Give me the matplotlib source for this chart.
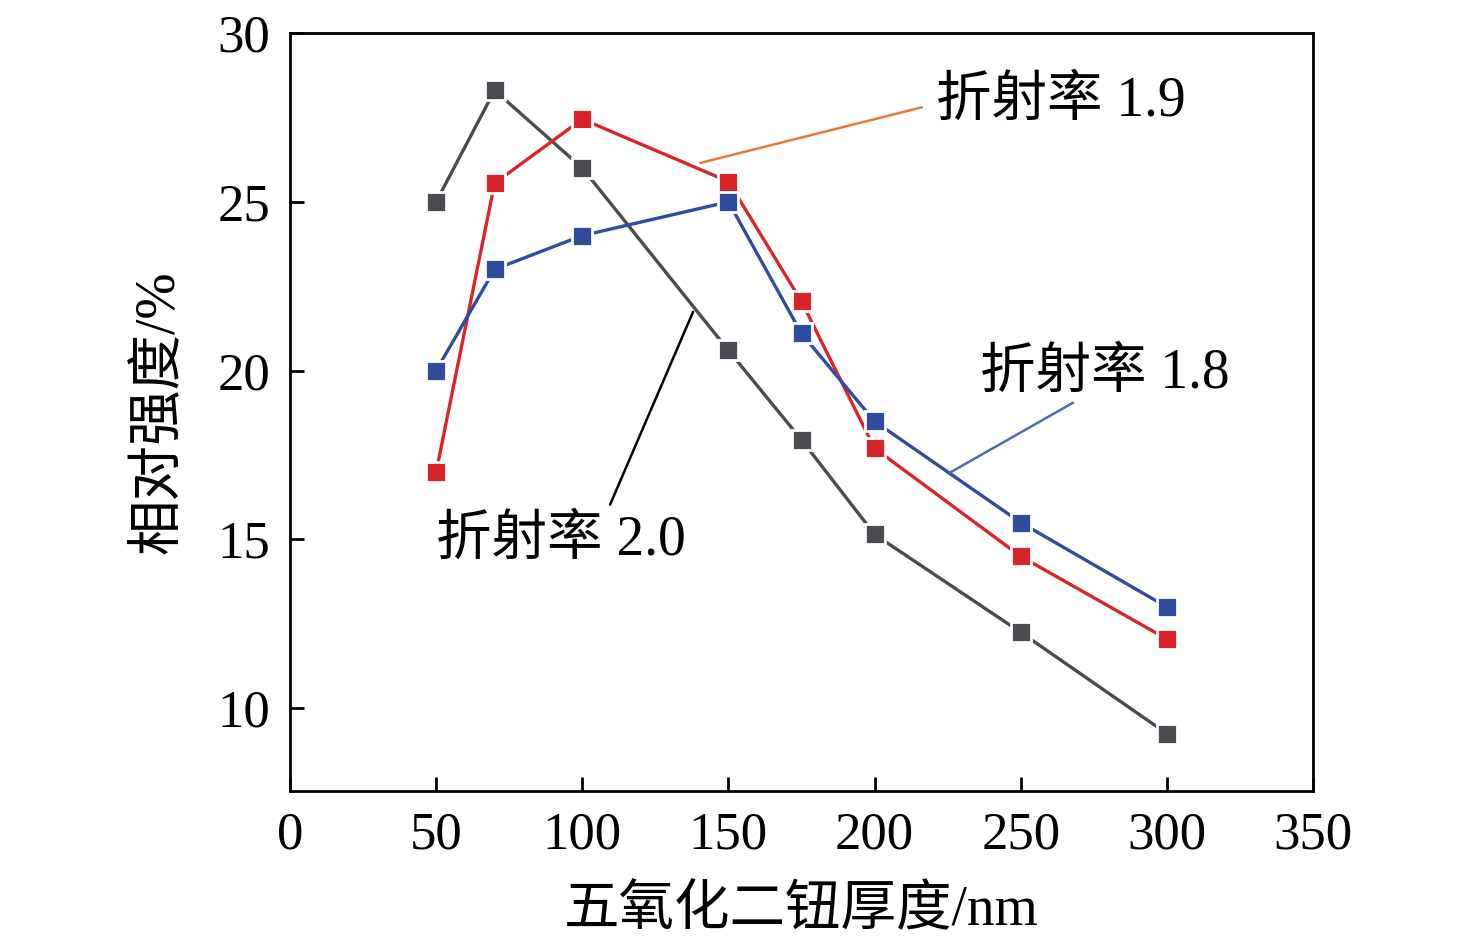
import matplotlib
matplotlib.use("Agg")
import matplotlib.pyplot as plt

plt.rcParams['font.family'] = ['Liberation Serif', 'Noto Sans CJK SC']
plt.rcParams['axes.unicode_minus'] = False

thickness = [50, 70, 100, 150, 175, 200, 250, 300]
n20 = [25.0, 28.3, 26.0, 20.6, 17.95, 15.15, 12.25, 9.25]
n19 = [17.0, 25.55, 27.45, 25.6, 22.05, 17.7, 14.5, 12.05]
n18 = [20.0, 23.0, 24.0, 25.0, 21.1, 18.5, 15.5, 13.0]

c_black = '#4a4b50'
c_red = '#d9252a'
c_blue = '#2f4d9e'

fig = plt.figure(figsize=(14.76, 9.43), dpi=100)
ax = fig.add_axes([290/1476, 1 - 791/943, (1313-290)/1476, (791-33)/943])

for y, c in [(n20, c_black), (n19, c_red), (n18, c_blue)]:
    ax.plot(thickness, y, color=c, lw=2.4, marker='s', ms=14,
            mec='white', mew=2.0)

ax.set_xlim(0, 350)
ax.set_ylim(7.55, 30)
ax.set_xticks(range(0, 351, 50))
ax.set_yticks([10, 15, 20, 25, 30])
ax.tick_params(axis='both', direction='in', length=10, width=2, labelsize=38)
ax.tick_params(axis='x', pad=15)
ax.tick_params(axis='y', pad=14)
for s in ax.spines.values():
    s.set_linewidth(2)

ax.set_xlabel('五氧化二钮厚度/nm', fontsize=40)
ax.set_ylabel('相对强度/%', fontsize=40)
ax.xaxis.set_label_coords(0.5, -0.125)
ax.yaxis.set_label_coords(-0.103, 0.5)

# leader lines + labels
fs = 40
ax.annotate('', xy=(140.3, 26.15), xytext=(216.2, 27.8),
            arrowprops=dict(arrowstyle='-', color='#e07a3a', lw=1.8,
                            shrinkA=0, shrinkB=0))
ax.text(221, 27.95, '折射率 1.9', fontsize=fs, va='center', ha='left')

ax.annotate('', xy=(225.8, 16.98), xytext=(267.9, 19.05),
            arrowprops=dict(arrowstyle='-', color='#4a6db5', lw=1.8,
                            shrinkA=0, shrinkB=0))
ax.text(236, 19.92, '折射率 1.8', fontsize=fs, va='center', ha='left')

ax.annotate('', xy=(137.9, 21.74), xytext=(109.5, 16.03),
            arrowprops=dict(arrowstyle='-', color='black', lw=1.8,
                            shrinkA=0, shrinkB=0))
ax.text(50, 14.95, '折射率 2.0', fontsize=fs, va='center', ha='left')

fig.savefig('out.png', dpi=100)
